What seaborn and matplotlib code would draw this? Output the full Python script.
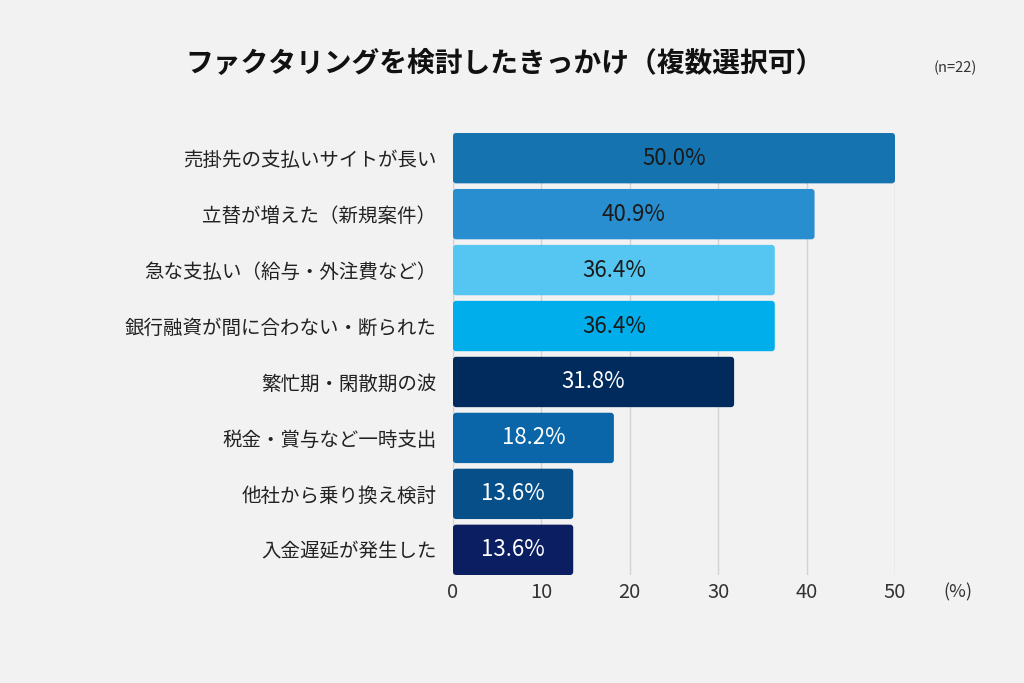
import pandas as pd
import numpy as np
import matplotlib
matplotlib.use("Agg")
import matplotlib.pyplot as plt
from matplotlib.patches import FancyBboxPatch
import seaborn as sns

# data
categories = [
    "売掛先の支払いサイトが長い",
    "立替が増えた（新規案件）",
    "急な支払い（給与・外注費など）",
    "銀行融資が間に合わない・断られた",
    "繁忙期・閑散期の波",
    "税金・賞与など一時支出",
    "他社から乗り換え検討",
    "入金遅延が発生した",
]
values = [50.0, 40.9, 36.4, 36.4, 31.8, 18.2, 13.6, 13.6]
bar_colors = ["#1573AF", "#288ECF", "#55C6F1", "#00AEEB",
              "#002B5C", "#0A66A8", "#064F89", "#0B1E62"]
label_colors = ["#1a1a1a"] * 4 + ["white"] * 4
x_ticks = [0, 10, 20, 30, 40, 50]

title = "ファクタリングを検討したきっかけ（複数選択可）"
sample_note = "(n=22)"
unit_note = "(%)"

df = pd.DataFrame({"category": categories, "value": values})

sns.set_theme(style="white")
plt.rcParams["font.family"] = ["Noto Sans CJK JP", "DejaVu Sans"]
bg = "#F2F2F2"

fig = plt.figure(figsize=(10.24, 6.83), dpi=100, facecolor=bg)
ax = fig.add_axes([453 / 1024, 1 - 575 / 683, (895 - 453) / 1024, (575 - 133) / 683])
ax.set_facecolor(bg)

sns.barplot(data=df, x="value", y="category", hue="category", palette=bar_colors,
            legend=False, width=0.9, saturation=1, ax=ax, zorder=2)

# swap plain rectangles for slightly rounded ones
for patch in list(ax.patches):
    x0, y0 = patch.get_x(), patch.get_y()
    w, h = patch.get_width(), patch.get_height()
    rounded = FancyBboxPatch((x0, y0), w, h,
                             boxstyle="round,pad=0,rounding_size=0.35",
                             mutation_aspect=0.16,
                             facecolor=patch.get_facecolor(), edgecolor="none", zorder=2)
    patch.remove()
    ax.add_patch(rounded)

for i, (v, c) in enumerate(zip(values, label_colors)):
    ax.text(v / 2, i, f"{v:.1f}%", ha="center", va="center", color=c, fontsize=16, zorder=3)

ax.set_xlim(0, 50)
ax.set_ylim(7.45, -0.45)
ax.set_xticks(x_ticks)
ax.set_xticklabels([str(t) for t in x_ticks])
ax.xaxis.grid(True, color="#d3d3d3", linewidth=1, zorder=0)
ax.set_axisbelow(True)
ax.tick_params(axis="x", length=0, labelsize=14.5, pad=5, colors="#333333")
ax.tick_params(axis="y", length=0, labelsize=14, pad=12, colors="#222222")
ax.set_xlabel("")
ax.set_ylabel("")
for s in ax.spines.values():
    s.set_visible(False)

fig.text(505 / 1024, 1 - 64 / 683, title, ha="center", va="center",
         fontsize=20, fontweight="bold", color="#111111")
fig.text(955 / 1024, 1 - 68 / 683, sample_note, ha="center", va="center",
         fontsize=10.5, color="#333333")
fig.text(958 / 1024, 1 - 592 / 683, unit_note, ha="center", va="center",
         fontsize=13, color="#333333")

fig.savefig("out.png", dpi=100, facecolor=bg)
